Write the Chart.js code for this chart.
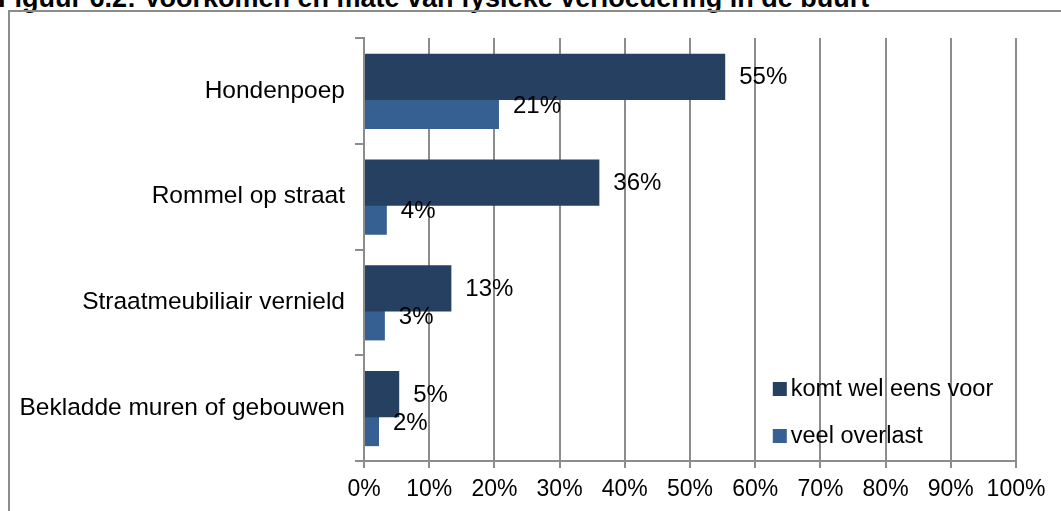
<!DOCTYPE html>
<html>
<head>
<meta charset="utf-8">
<script src="https://cdn.jsdelivr.net/npm/chart.js@4.4.1/dist/chart.umd.min.js"></script>
<style>
  body { margin: 0; background: #fff; overflow: hidden; }
  #wrap { position: relative; width: 1061px; height: 511px; overflow: hidden; }
  #frame { position: absolute; left: 8px; top: 10px; width: 1100px; height: 600px; border: 2px solid #8c8c8c; box-sizing: border-box; }
  #title { position: absolute; left: -2px; top: -17px; font: bold 27px/30px "Liberation Sans", Arial, sans-serif; white-space: nowrap; color: #000; }
  #box { position: absolute; left: 0; top: 0; width: 1061px; height: 511px; }
</style>
</head>
<body>
<div id="wrap">
  <div id="title">Figuur 6.2: Voorkomen en mate van fysieke verloedering in de buurt</div>
  <div id="frame"></div>
  <div id="box"><canvas id="chart"></canvas></div>
</div>
<script>
const categories = ['Hondenpoep', 'Rommel op straat', 'Straatmeubiliair vernield', 'Bekladde muren of gebouwen'];
const seriesNames = ['komt wel eens voor', 'veel overlast'];
const komtVoor = [55.4, 36.1, 13.4, 5.4];
const veelOverlast = [20.7, 3.5, 3.2, 2.3];
const xMax = 100;
const xStep = 10;

const FAMILY = '"Liberation Sans", Arial, sans-serif';
const GRID = '#8c8c8c';

// labels right after each bar, like Excel's "outside end"
const barLabels = {
  id: 'barLabels',
  afterDatasetsDraw(chart) {
    const { ctx } = chart;
    ctx.save();
    ctx.font = `24px ${FAMILY}`;
    ctx.fillStyle = '#000';
    ctx.textAlign = 'left';
    ctx.textBaseline = 'middle';
    chart.data.datasets.forEach((ds, i) => {
      chart.getDatasetMeta(i).data.forEach((bar, j) => {
        ctx.fillText(Math.round(ds.data[j]) + '%', bar.x + 14, bar.y + 1);
      });
    });
    ctx.restore();
  }
};

// legend sits inside the plot, lower right
const legendInside = {
  id: 'legendInside',
  afterDraw(chart) {
    const { ctx, chartArea } = chart;
    ctx.save();
    ctx.font = `23.5px ${FAMILY}`;
    ctx.textAlign = 'left';
    ctx.textBaseline = 'middle';
    chart.data.datasets.forEach((ds, i) => {
      const x = chartArea.left + chartArea.width * 0.627;
      const y = chartArea.bottom - 72 + i * 47;
      ctx.fillStyle = ds.backgroundColor;
      ctx.fillRect(x, y - 7, 14, 14);
      ctx.fillStyle = '#000';
      ctx.fillText(ds.label, x + 18, y + 1);
    });
    ctx.restore();
  }
};

new Chart(document.getElementById('chart'), {
  type: 'bar',
  data: {
    labels: categories,
    datasets: [
      { label: seriesNames[0], data: komtVoor, backgroundColor: '#254061', categoryPercentage: 0.53, barPercentage: 1.643 },
      { label: seriesNames[1], data: veelOverlast, backgroundColor: '#376092', categoryPercentage: 0.53, barPercentage: 1.714 },
    ],
  },
  options: {
    indexAxis: 'y',
    responsive: true,
    maintainAspectRatio: false,
    animation: false,
    layout: { padding: { left: 0, top: 38, right: 45, bottom: 0 } },
    plugins: { legend: { display: false }, tooltip: { enabled: false } },
    scales: {
      x: {
        min: 0,
        max: xMax,
        ticks: {
          stepSize: xStep, color: '#000', font: { family: FAMILY, size: 23 }, padding: 8,
          maxRotation: 0, minRotation: 0, autoSkip: false, callback: v => v + '%',
        },
        grid: { color: GRID, lineWidth: 2, tickLength: 7 },
        border: { color: GRID, width: 2 },
        afterFit: s => { s.height = 50; },
      },
      y: {
        ticks: { color: '#000', font: { family: FAMILY, size: 24.5 }, padding: 10 },
        grid: { color: GRID, lineWidth: 2, tickLength: 9, drawOnChartArea: false, offset: true },
        border: { color: GRID, width: 2 },
        afterFit: s => { s.width = 364; },
      },
    },
  },
  plugins: [barLabels, legendInside],
});
</script>
</body>
</html>
